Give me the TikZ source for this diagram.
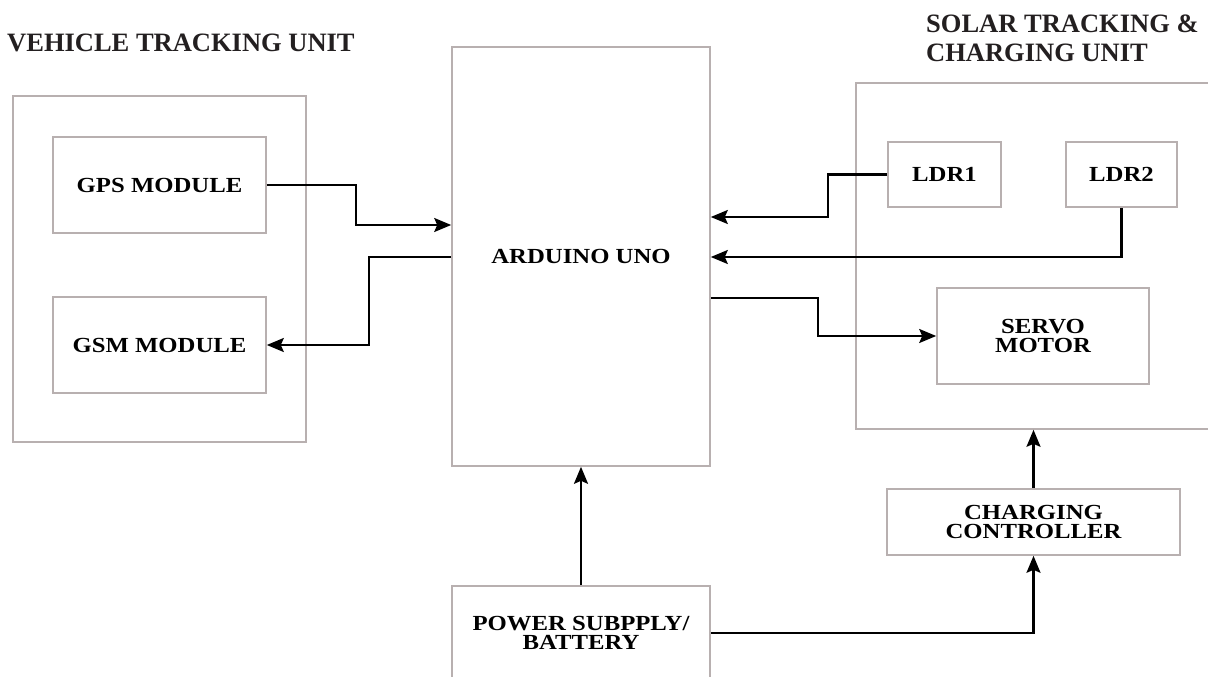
\documentclass[tikz,border=0pt]{standalone}
\usepackage{fontspec}
\setmainfont{Liberation Serif}
\usetikzlibrary{arrows.meta}
\definecolor{boxgray}{HTML}{B8B0B0}
\definecolor{titlecol}{HTML}{231F20}
\newcommand{\bt}[1]{\scalebox{1.15}[1]{\bfseries #1}}
\begin{document}
\begin{tikzpicture}[x=1pt,y=-1pt,
  box/.style={draw=boxgray,line width=1.6pt,rectangle,inner sep=0pt,
    font=\fontsize{21.5}{19.5}\selectfont,align=center,text=black},
  arr/.style={draw=black,line width=2.1pt,-{Stealth[length=17pt,width=14pt,inset=3pt]}},
  title/.style={font=\fontsize{26.5}{28}\selectfont\bfseries,text=titlecol,inner sep=0pt}]
\useasboundingbox (0,0) rectangle (1208,677);
\clip (0,0) rectangle (1208,677);
\fill[white] (0,0) rectangle (1208,677);
% titles
\node[title,anchor=base west] (t1) at (7,52) {VEHICLE TRACKING UNIT};
\node[title,anchor=base west] (t2) at (926,33) {SOLAR TRACKING \&};
\node[title,anchor=base west] (t3) at (926,62) {CHARGING UNIT};
% groups
\node[box,minimum width=293pt,minimum height=346pt] (vtu) at (159.5,269) {};
\node[box,minimum width=359pt,minimum height=346pt] (stu) at (1035.5,256) {};
% blocks
\node[box,minimum width=213pt,minimum height=96pt] (gps) at (159.5,185) {\bt{GPS MODULE}};
\node[box,minimum width=213pt,minimum height=96pt] (gsm) at (159.5,345) {\bt{GSM MODULE}};
\node[box,minimum width=258pt,minimum height=419pt] (ard) at (581,256.5) {\bt{ARDUINO UNO}};
\node[box,minimum width=258pt,minimum height=94pt] (pow) at (581,633) {\bt{POWER SUBPPLY/}\\\bt{BATTERY}};
\node[box,minimum width=113pt,minimum height=65pt] (ldr1) at (944.5,174.5) {\bt{LDR1}};
\node[box,minimum width=111pt,minimum height=65pt] (ldr2) at (1121.5,174.5) {\bt{LDR2}};
\node[box,minimum width=212pt,minimum height=96pt] (servo) at (1043,336) {\bt{SERVO}\\\bt{MOTOR}};
\node[box,minimum width=293pt,minimum height=66pt] (chg) at (1033.5,522) {\bt{CHARGING}\\\bt{CONTROLLER}};
% connectors
\draw[arr] (gps.east) -- (356,185) |- (ard.west |- 0,225);
\draw[arr] (ard.west |- 0,257) -- (369,257) |- (gsm.east);
\draw[arr] (ldr1.west) -- (828,174.5) |- (ard.east |- 0,217);
\draw[arr] (ldr2.south) |- (ard.east |- 0,257);
\draw[arr] (ard.east |- 0,298) -- (818,298) |- (servo.west);
\draw[arr] (chg.north) -- (chg.north |- stu.south);
\draw[arr] (pow.north) -- (ard.south);
\draw[arr] (pow.east) -| (chg.south);
\end{tikzpicture}
\end{document}
